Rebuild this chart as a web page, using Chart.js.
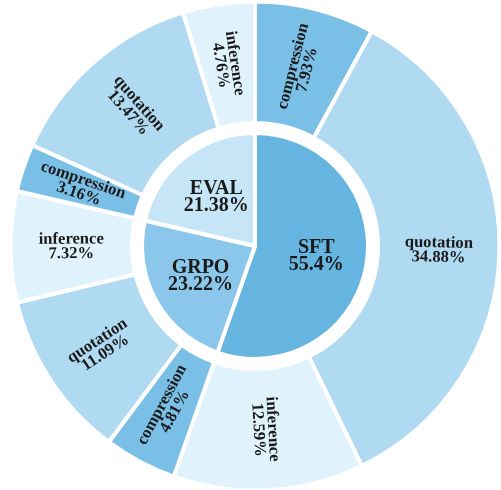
<!DOCTYPE html>
<html><head><meta charset="utf-8">
<script src="https://cdn.jsdelivr.net/npm/chart.js@4/dist/chart.umd.min.js"></script>
<style>html,body{margin:0;padding:0;background:#fff;}#wrap{width:501px;height:490px;position:relative;}</style>
</head><body><div id="wrap"><canvas id="c"></canvas></div>
<script>
const stageLabels = ['SFT', 'GRPO', 'EVAL'];
const stageValues = [55.4, 23.22, 21.38];
const taskLabels = ['compression', 'quotation', 'inference', 'compression', 'quotation', 'inference', 'compression', 'quotation', 'inference'];
const taskValues = [7.93, 34.88, 12.59, 4.81, 11.09, 7.32, 3.16, 13.47, 4.76];

const stageColors = ['#66b4e0', '#8bc7ea', '#c6e5f6'];
const taskColorMap = { compression: '#7abfe6', quotation: '#afdaf1', inference: '#e0f3fc' };

const labelPlugin = {
  id: 'sliceLabels',
  afterDatasetsDraw(chart) {
    const ctx = chart.ctx;
    ctx.save();
    ctx.fillStyle = '#1a1a1a';
    ctx.textAlign = 'center';
    ctx.textBaseline = 'middle';
    // outer ring
    const outerMeta = chart.getDatasetMeta(0);
    ctx.font = 'bold 16.6px "Liberation Serif", "Times New Roman", serif';
    outerMeta.data.forEach((arc, i) => {
      const p = arc.getProps(['x', 'y', 'startAngle', 'endAngle', 'innerRadius', 'outerRadius'], true);
      const a = (p.startAngle + p.endAngle) / 2;
      const r = (p.innerRadius + p.outerRadius) / 2;
      let rot = a;
      while (rot > Math.PI / 2) rot -= Math.PI;
      while (rot < -Math.PI / 2) rot += Math.PI;
      ctx.save();
      ctx.translate(p.x + r * Math.cos(a), p.y + r * Math.sin(a));
      ctx.rotate(rot);
      const lh = 14.5;
      ctx.fillText(taskLabels[i], 0, -lh / 2);
      ctx.fillText(taskValues[i] + '%', 0, lh / 2);
      ctx.restore();
    });
    // inner pie
    const innerMeta = chart.getDatasetMeta(2);
    ctx.font = 'bold 20px "Liberation Serif", "Times New Roman", serif';
    innerMeta.data.forEach((arc, i) => {
      const p = arc.getProps(['x', 'y', 'startAngle', 'endAngle', 'innerRadius', 'outerRadius'], true);
      const a = (p.startAngle + p.endAngle) / 2;
      const r = p.outerRadius * 0.55;
      const lh = 17;
      const cx = p.x + r * Math.cos(a), cy = p.y + r * Math.sin(a);
      ctx.fillText(stageLabels[i], cx, cy - lh / 2);
      ctx.fillText(stageValues[i] + '%', cx, cy + lh / 2);
    });
    ctx.restore();
  }
};

new Chart(document.getElementById('c'), {
  type: 'doughnut',
  data: {
    labels: taskLabels,
    datasets: [
      {
        data: taskValues,
        backgroundColor: taskLabels.map(l => taskColorMap[l]),
        borderColor: '#ffffff',
        borderWidth: 4,
        weight: 121.5
      },
      {
        data: [100],
        backgroundColor: 'rgba(0,0,0,0)',
        borderWidth: 0,
        weight: 10
      },
      {
        data: stageValues,
        backgroundColor: stageColors,
        borderColor: '#ffffff',
        borderWidth: 4,
        weight: 113
      }
    ]
  },
  options: {
    responsive: true,
    maintainAspectRatio: false,
    animation: false,
    events: [],
    radius: 244.5,
    cutout: 0,
    layout: { padding: { left: 9, top: 2, right: 0, bottom: 0 } },
    plugins: { legend: { display: false }, tooltip: { enabled: false } }
  },
  plugins: [labelPlugin]
});
</script>
</body></html>
